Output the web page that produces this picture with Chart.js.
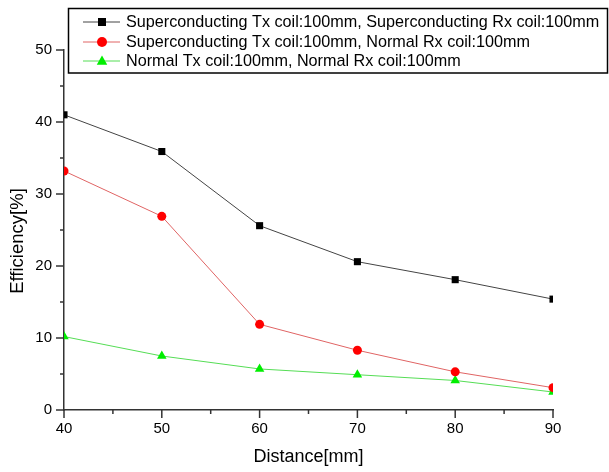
<!DOCTYPE html>
<html>
<head>
<meta charset="utf-8">
<script src="https://cdn.jsdelivr.net/npm/chart.js@4.4.1/dist/chart.umd.min.js"></script>
<style>
  body { margin: 0; background: #fff; }
  #wrap { width: 609px; height: 472px; position: relative; }
</style>
</head>
<body>
<div id="wrap"><canvas id="myChart"></canvas></div>
<script>
const distances = [40, 50, 60, 70, 80, 90];
const scTxScRx = [41.0, 35.9, 25.6, 20.6, 18.1, 15.4];
const scTxNormalRx = [33.2, 26.9, 11.9, 8.3, 5.3, 3.1];
const normalTxNormalRx = [10.2, 7.5, 5.7, 4.9, 4.1, 2.5];

const seriesLabels = [
  'Superconducting Tx coil:100mm, Superconducting Rx coil:100mm',
  'Superconducting Tx coil:100mm, Normal Rx coil:100mm',
  'Normal Tx coil:100mm, Normal Rx coil:100mm'
];
const xTicks = [40, 45, 50, 55, 60, 65, 70, 75, 80, 85, 90];
const yTicks = [0, 5, 10, 15, 20, 25, 30, 35, 40, 45, 50];
const yTitle = 'Efficiency[%]';

const FONT = 'Arial, "Liberation Sans", sans-serif';
const ctx = document.getElementById('myChart');

function toPoints(values) {
  return distances.map((d, i) => ({ x: d, y: values[i] }));
}

function marker(c, style, x, y, r, color) {
  c.save();
  c.fillStyle = color;
  c.beginPath();
  if (style === 'rect') {
    c.rect(x - r, y - r, 2 * r, 2 * r);
  } else if (style === 'circle') {
    c.arc(x, y, r, 0, Math.PI * 2);
  } else {
    c.moveTo(x, y - r * 1.1);
    c.lineTo(x + r * 1.05, y + r * 0.75);
    c.lineTo(x - r * 1.05, y + r * 0.75);
    c.closePath();
  }
  c.fill();
  c.restore();
}

// tick marks (major longer than minor), y title and the legend box
const decorations = {
  id: 'decorations',
  afterDraw(chart) {
    const c = chart.ctx;
    const xs = chart.scales.x, ys = chart.scales.y;
    const area = chart.chartArea;
    c.save();
    c.strokeStyle = '#333';
    c.lineWidth = 1.5;
    xTicks.forEach(v => {
      const px = xs.getPixelForValue(v);
      const len = v % 10 === 0 ? 8 : 4;
      c.beginPath();
      c.moveTo(px, area.bottom);
      c.lineTo(px, area.bottom + len);
      c.stroke();
    });
    yTicks.forEach(v => {
      const py = ys.getPixelForValue(v);
      const len = v % 10 === 0 ? 8 : 4;
      c.beginPath();
      c.moveTo(area.left, py);
      c.lineTo(area.left - len, py);
      c.stroke();
    });
    c.restore();

    // y axis title, sits a bit below the middle like the original
    c.save();
    c.translate(18, 241);
    c.rotate(-Math.PI / 2);
    c.fillStyle = '#000';
    c.font = '18.5px ' + FONT;
    c.textAlign = 'center';
    c.textBaseline = 'middle';
    c.fillText(yTitle, 0, 0);
    c.restore();

    // legend
    c.save();
    c.fillStyle = '#fff';
    c.fillRect(68, 8, 540, 65);
    c.strokeStyle = '#000';
    c.lineWidth = 1.5;
    c.strokeRect(68.5, 8.5, 539, 64.5);
    const rowY = [22, 42, 61];
    chart.data.datasets.forEach((ds, i) => {
      const y = rowY[i];
      c.strokeStyle = ds.borderColor;
      c.lineWidth = 1;
      c.beginPath();
      c.moveTo(83, y);
      c.lineTo(120, y);
      c.stroke();
      marker(c, ds.pointStyle, 102, y, ds.pointStyle === 'rect' ? 4 : 5, ds.pointBackgroundColor);
      c.fillStyle = '#000';
      c.font = '16.2px ' + FONT;
      c.textBaseline = 'middle';
      c.textAlign = 'left';
      c.fillText(ds.label, 126, y + 1);
    });
    c.restore();
  }
};

new Chart(ctx, {
  type: 'line',
  data: {
    datasets: [
      {
        label: seriesLabels[0],
        data: toPoints(scTxScRx),
        borderColor: '#444444',
        borderWidth: 1,
        pointStyle: 'rect',
        pointRadius: 5,
        pointBackgroundColor: '#000000',
        pointBorderColor: '#000000',
        pointBorderWidth: 0
      },
      {
        label: seriesLabels[1],
        data: toPoints(scTxNormalRx),
        borderColor: '#e06464',
        borderWidth: 1,
        pointStyle: 'circle',
        pointRadius: 4.5,
        pointBackgroundColor: '#ff0000',
        pointBorderColor: '#ff0000',
        pointBorderWidth: 0
      },
      {
        label: seriesLabels[2],
        data: toPoints(normalTxNormalRx),
        borderColor: '#55dd55',
        borderWidth: 1,
        pointStyle: 'triangle',
        pointRadius: 5.5,
        pointBackgroundColor: '#00ee00',
        pointBorderColor: '#00ee00',
        pointBorderWidth: 0
      }
    ]
  },
  options: {
    responsive: true,
    maintainAspectRatio: false,
    animation: false,
    layout: { padding: { top: 50, right: 56, left: 0, bottom: 0 } },
    plugins: {
      legend: { display: false },
      tooltip: { enabled: false }
    },
    scales: {
      x: {
        type: 'linear',
        min: 40,
        max: 90,
        afterBuildTicks: scale => { scale.ticks = xTicks.map(v => ({ value: v })); },
        afterFit: scale => { scale.height = 62; },
        grid: { display: false, drawTicks: false },
        border: { display: true, color: '#333', width: 1.5 },
        ticks: {
          padding: 10,
          color: '#000',
          font: { family: FONT, size: 15 },
          maxRotation: 0,
          autoSkip: false,
          callback: v => (v % 10 === 0 ? v : '')
        },
        title: {
          display: true,
          text: 'Distance[mm]',
          color: '#000',
          font: { family: FONT, size: 18 },
          padding: 4
        }
      },
      y: {
        min: 0,
        max: 50,
        afterBuildTicks: scale => { scale.ticks = yTicks.map(v => ({ value: v })); },
        afterFit: scale => { scale.width = 64; },
        grid: { display: false, drawTicks: false },
        border: { display: true, color: '#333', width: 1.5 },
        ticks: {
          padding: 12,
          color: '#000',
          font: { family: FONT, size: 15 },
          autoSkip: false,
          callback: v => (v % 10 === 0 ? v : '')
        }
      }
    }
  },
  plugins: [decorations]
});
</script>
</body>
</html>
